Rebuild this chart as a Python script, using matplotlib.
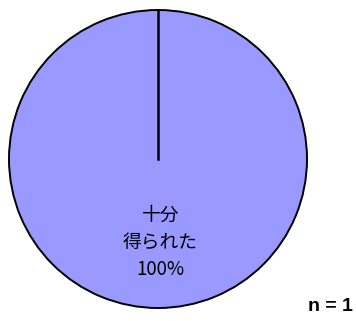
import numpy as np
import matplotlib.pyplot as plt

plt.rcParams['font.family'] = ['Noto Sans CJK JP', 'DejaVu Sans']

labels = ['十分\n得られた']
values = [100]
colors = ['#9999FF']
n_total = 1
start_angle = 90

fig = plt.figure(figsize=(3.56, 3.21), dpi=100)
ax = fig.add_axes([9 / 356, 13 / 321, 298 / 356, 298 / 321])

wedges, _ = ax.pie(values, colors=colors, startangle=start_angle, counterclock=False,
                   wedgeprops=dict(edgecolor='black', linewidth=1.4))
# radial boundary of the (single) wedge
a = np.deg2rad(start_angle)
ax.plot([0, np.cos(a)], [0, np.sin(a)], color='black', linewidth=1.8)
ax.set_xlim(-1, 1)
ax.set_ylim(-1, 1)
ax.set_aspect('equal')

for lab, v in zip(labels, values):
    ax.text(0.015, -0.56, f'{lab}\n{v}%', ha='center', va='center',
            fontsize=13.5, linespacing=1.38)

fig.text(0.928, 0.045, f'n = {n_total}', ha='center', va='center',
         fontsize=14, fontweight='bold', family='Liberation Sans')

fig.savefig('out.png', dpi=100)
